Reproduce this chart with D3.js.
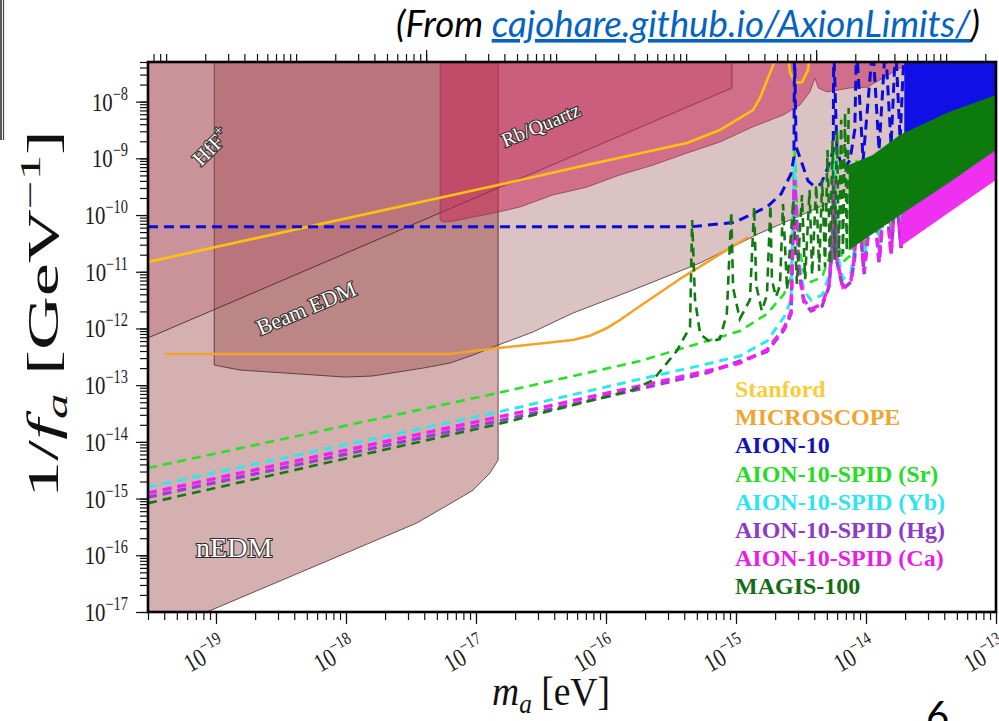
<!DOCTYPE html>
<html>
<head>
<meta charset="utf-8">
<script src="https://cdn.jsdelivr.net/npm/d3@7"></script>
<style>
  body { margin: 0; background: #fff; }
  svg { display: block; }
</style>
</head>
<body>
<svg id="canvas" width="999" height="721"></svg>
<script>
// ---- axes ----
const massRange = [3e-20, 1e-13];
const couplingRange = [1e-17, 5e-8];
const xTicks = [1e-19, 1e-18, 1e-17, 1e-16, 1e-15, 1e-14, 1e-13];
const xTickExp = ['−19', '−18', '−17', '−16', '−15', '−14', '−13'];
const yTicks = [1e-17, 1e-16, 1e-15, 1e-14, 1e-13, 1e-12, 1e-11, 1e-10, 1e-9, 1e-8];
const yTickExp = ['−17', '−16', '−15', '−14', '−13', '−12', '−11', '−10', '−9', '−8'];
const hzPerEV = 2.418e14;
const freqMajor = [1e-3, 1];

// ---- excluded regions [mass eV, 1/fa GeV^-1] ----
const nEDM = [[3e-20, 1e-7], [3e-20, 3.5e-18], [8.5e-20, 1e-17], [3.5e-18, 3.7e-16], [7.5e-18, 1.02e-15],
  [9.5e-18, 1.41e-15], [1.28e-17, 2.82e-15], [1.48e-17, 4.8e-15], [1.48e-17, 1e-7]];
const hfF = [[9.7e-20, 1e-7], [9.7e-20, 2.26e-13], [1.53e-19, 1.85e-13], [9.8e-19, 1.39e-13], [1.6e-18, 1.45e-13],
  [3.9e-18, 2.0e-13], [6.3e-18, 2.45e-13], [9.5e-18, 3.4e-13], [1.48e-17, 5.1e-13], [2.74e-17, 8.65e-13],
  [5.57e-17, 1.87e-12], [1.61e-16, 4.76e-12], [5.3e-16, 1.43e-11], [1.53e-15, 4.8e-11], [1e-13, 3.2e-9], [1e-13, 1e-7]];
const beamEDM = [[3e-20, 1e-7], [3e-20, 6.8e-13], [9.3e-16, 1.74e-8], [9.3e-16, 1e-7]];
const rbQuartz = [[5.3e-18, 1e-7], [5.3e-18, 8.2e-11], [5.6e-18, 7.5e-11], [6.65e-18, 7.8e-11], [1.48e-17, 1.13e-10],
  [2.18e-17, 1.39e-10], [3.9e-17, 2.26e-10], [7.1e-17, 3.1e-10], [1.28e-16, 5.1e-10], [2.3e-16, 7.6e-10],
  [4.2e-16, 1.24e-9], [7.5e-16, 1.94e-9], [1.35e-15, 3.6e-9], [2.3e-15, 5.8e-9], [3.1e-15, 8.7e-9],
  [3.7e-15, 1.48e-8], [4.05e-15, 2.6e-8], [4.3e-15, 1.74e-8], [5.0e-15, 1.48e-8], [7.5e-15, 1.74e-8],
  [1.02e-14, 1.8e-8], [1.35e-14, 2.6e-8], [1.83e-14, 3.9e-8], [2.47e-14, 4.4e-8], [3.7e-14, 5.2e-8], [1e-13, 1e-7]];

// ---- limit / projection curves ----
const stanford = [[3e-20, 1.49e-11], [1.48e-17, 3.39e-10], [7.1e-17, 7.6e-10], [4.2e-16, 1.86e-9], [7.5e-16, 3.16e-9],
  [1.35e-15, 7.1e-9], [1.53e-15, 1.16e-8], [1.89e-15, 3.9e-8], [2.0e-15, 5.4e-8], [2.2e-15, 2e-7], [2.38e-15, 2e-7],
  [2.6e-15, 3.3e-8], [2.84e-15, 2.13e-8], [3.22e-15, 2.22e-8], [3.58e-15, 3.6e-8], [3.9e-15, 2e-7]];
const microscope = [[4.06e-20, 3.54e-13], [6.3e-18, 3.54e-13], [1.48e-17, 4.52e-13], [5.57e-17, 6.25e-13],
  [7.5e-17, 7.4e-13], [1.02e-16, 1.02e-12], [1.28e-16, 1.41e-12], [1.83e-16, 2.49e-12], [3.9e-16, 8.07e-12], [1.24e-15, 4.1e-11]];
const aion10 = [[3e-20, 6.2e-11], [4.43e-16, 6.2e-11], [9.7e-16, 7.4e-11], [1.73e-15, 1.39e-10], [2.22e-15, 2.35e-10],
  [2.65e-15, 5.3e-10], [2.79e-15, 1.05e-9], [2.82e-15, 1e-7], [2.9e-15, 1.6e-9], [3.16e-15, 9.2e-10], [3.58e-15, 4.0e-10],
  [3.98e-15, 3.25e-10], [4.5e-15, 3.5e-10], [5.1e-15, 7.0e-10], [5.6e-15, 1.4e-9], [5.64e-15, 1e-7],
  [5.98e-15, 1.4e-9], [6.65e-15, 6.2e-10], [7.53e-15, 9.3e-10], [8.2e-15, 3.2e-9], [8.46e-15, 1e-7],
  [9.5e-15, 9.3e-10], [1.128e-14, 1e-7], [1.26e-14, 1.4e-9], [1.41e-14, 1e-7], [1.56e-14, 1.72e-9],
  [1.69e-14, 1e-7], [1.83e-14, 2.1e-9], [1.97e-14, 1e-7]];
const aion10DenseLow = [[1.97e-14, 2.1e-9], [4.4e-14, 5.1e-9], [1e-13, 1.07e-8]];
const aion10DenseHigh = [[1.97e-14, 1e-7], [4.4e-14, 1e-7], [1e-13, 1e-7]];
const spidSr = [[3e-20, 3.46e-15], [1.48e-17, 7.3e-14], [1.83e-16, 2.67e-13], [5.98e-16, 6.0e-13], [1.07e-15, 9.0e-13],
  [1.73e-15, 1.8e-12], [2.34e-15, 4.05e-12], [2.65e-15, 8.1e-12], [2.82e-15, 1.4e-9], [3.05e-15, 2.96e-11],
  [3.33e-15, 9.5e-12], [3.78e-15, 6.6e-12], [4.6e-15, 8.1e-12], [5.19e-15, 1.75e-11], [5.48e-15, 6.7e-11],
  [5.64e-15, 1.4e-9], [5.98e-15, 4.4e-11], [6.65e-15, 1.49e-11], [7.67e-15, 1.97e-11], [8.2e-15, 5.4e-11],
  [8.46e-15, 9.3e-10], [9.66e-15, 2.52e-11], [1.128e-14, 6.2e-10], [1.26e-14, 3.78e-11], [1.41e-14, 6.2e-10],
  [1.56e-14, 5.0e-11], [1.69e-14, 6.2e-10], [1.86e-14, 6.4e-11], [1.97e-14, 6.2e-10]];
const spidYb = [[3e-20, 1.6e-15], [1.48e-17, 3.36e-14], [1.83e-16, 1.28e-13], [5.98e-16, 2.36e-13], [1.07e-15, 3.27e-13],
  [1.73e-15, 6.0e-13], [2.34e-15, 1.59e-12], [2.65e-15, 3.17e-12], [2.82e-15, 9.3e-10], [3.05e-15, 1.55e-11],
  [3.33e-15, 4.57e-12], [3.78e-15, 3.17e-12], [4.6e-15, 3.9e-12], [5.19e-15, 8.4e-12], [5.48e-15, 3.5e-11],
  [5.64e-15, 9.3e-10], [5.98e-15, 2.32e-11], [6.65e-15, 7.4e-12], [7.67e-15, 9.9e-12], [8.2e-15, 2.73e-11],
  [8.46e-15, 6.2e-10], [9.66e-15, 1.32e-11], [1.128e-14, 4.15e-10], [1.26e-14, 2.05e-11], [1.41e-14, 4.15e-10],
  [1.56e-14, 2.84e-11], [1.69e-14, 4.15e-10], [1.86e-14, 3.63e-11], [1.97e-14, 4.15e-10]];
const spidHg = [[3e-20, 1.06e-15], [1.48e-17, 2.33e-14], [1.83e-16, 8.6e-14], [5.98e-16, 1.65e-13], [1.73e-15, 3.9e-13],
  [2.34e-15, 9.4e-13], [2.65e-15, 1.8e-12], [2.82e-15, 4.15e-10], [3.05e-15, 9.9e-12], [3.33e-15, 2.92e-12],
  [3.78e-15, 2.03e-12], [4.6e-15, 2.49e-12], [5.19e-15, 5.4e-12], [5.48e-15, 2.23e-11], [5.64e-15, 4.15e-10],
  [5.98e-15, 1.49e-11], [6.65e-15, 4.96e-12], [7.67e-15, 6.6e-12], [8.2e-15, 1.82e-11], [8.46e-15, 3.4e-10],
  [9.66e-15, 9.1e-12], [1.128e-14, 2.8e-10], [1.26e-14, 1.43e-11], [1.41e-14, 2.8e-10], [1.56e-14, 1.97e-11],
  [1.69e-14, 2.8e-10], [1.86e-14, 2.62e-11], [1.97e-14, 2.8e-10]];
const spidCa = [[3e-20, 1.25e-15], [1.48e-17, 2.74e-14], [1.83e-16, 9.7e-14], [5.98e-16, 1.78e-13], [1.07e-15, 2.45e-13],
  [1.73e-15, 4.2e-13], [2.34e-15, 1.02e-12], [2.65e-15, 1.95e-12], [2.82e-15, 4.15e-10], [3.05e-15, 1.07e-11],
  [3.33e-15, 3.17e-12], [3.78e-15, 2.2e-12], [4.6e-15, 2.7e-12], [5.19e-15, 5.8e-12], [5.48e-15, 2.4e-11],
  [5.64e-15, 4.15e-10], [5.98e-15, 1.61e-11], [6.65e-15, 5.4e-12], [7.67e-15, 7.1e-12], [8.2e-15, 1.97e-11],
  [8.46e-15, 3.4e-10], [9.66e-15, 9.9e-12], [1.128e-14, 2.8e-10], [1.26e-14, 1.55e-11], [1.41e-14, 2.8e-10],
  [1.56e-14, 2.14e-11], [1.69e-14, 2.8e-10], [1.86e-14, 2.84e-11], [1.97e-14, 2.8e-10]];
const spidDenseLow = [[1.86e-14, 2.84e-11], [4.4e-14, 1.13e-10], [1e-13, 4.15e-10]];
const spidDenseHigh = [[1.86e-14, 2e-10], [4.4e-14, 6e-10], [1e-13, 2.1e-9]];
const magis = [[3e-20, 8.3e-16], [1.48e-17, 2.06e-14], [1.61e-16, 8.2e-14], [2.3e-16, 1.23e-13], [3.5e-16, 4.0e-13],
  [4.43e-16, 1.06e-12], [4.6e-16, 8.2e-11], [4.84e-16, 3.2e-12], [5.3e-16, 8.0e-13], [6.3e-16, 5.8e-13],
  [7.5e-16, 6.5e-13], [8.5e-16, 1.8e-12], [9.2e-16, 1.13e-10], [9.5e-16, 5.2e-12], [1.07e-15, 1.47e-12],
  [1.28e-15, 3.2e-12], [1.38e-15, 1.39e-10], [1.43e-15, 5.8e-12], [1.58e-15, 2.04e-12], [1.73e-15, 3.9e-12],
  [1.84e-15, 1.5e-10], [1.89e-15, 7.1e-12], [2.03e-15, 3.6e-12], [2.18e-15, 5.8e-12], [2.3e-15, 1.57e-10],
  [2.47e-15, 4.77e-12], [2.76e-15, 1.84e-10], [2.94e-15, 6.1e-12], [3.22e-15, 2.26e-10], [3.4e-15, 7.4e-12],
  [3.68e-15, 2.77e-10], [3.85e-15, 8.8e-12], [4.14e-15, 3.39e-10], [4.36e-15, 1.03e-11], [4.6e-15, 4.15e-10],
  [4.84e-15, 1.21e-11], [5.06e-15, 1.4e-9], [5.28e-15, 1.37e-11], [5.52e-15, 2.1e-9], [5.73e-15, 1.61e-11],
  [5.98e-15, 3.2e-9], [6.19e-15, 1.82e-11], [6.44e-15, 4.8e-9], [6.65e-15, 2.06e-11], [6.9e-15, 6.3e-9],
  [7.11e-15, 2.32e-11], [7.36e-15, 7.7e-9]];
const magisDenseLow = [[7.36e-15, 2.4e-11], [1.83e-14, 1.0e-10], [4.4e-14, 3.8e-10], [1e-13, 1.4e-9]];
const magisDenseHigh = [[7.36e-15, 7.6e-10], [1.128e-14, 1.15e-9], [1.83e-14, 2.6e-9], [4.4e-14, 6.6e-9], [1e-13, 1.31e-8]];

// ---- legend ----
const legendNames = ['Stanford', 'MICROSCOPE', 'AION-10', 'AION-10-SPID (Sr)', 'AION-10-SPID (Yb)',
  'AION-10-SPID (Hg)', 'AION-10-SPID (Ca)', 'MAGIS-100'];
const legendColors = ['#f9cc3a', '#f0a533', '#1414b4', '#27dc27', '#2ee4ee', '#8c3cc8', '#e61ee6', '#146e14'];

const serif = "'Liberation Serif', 'DejaVu Serif', serif";
const svg = d3.select('#canvas');

const x = d3.scaleLog().domain(massRange).range([148, 996]);
const y = d3.scaleLog().domain(couplingRange).range([612, 62]);
const freq = d3.scaleLog().domain(massRange.map(m => m * hzPerEV)).range([148, 996]);

svg.append('defs').append('clipPath').attr('id', 'plotclip')
  .append('rect').attr('x', 148).attr('y', 62).attr('width', 848).attr('height', 550);

const plot = svg.append('g').attr('clip-path', 'url(#plotclip)');
const line = d3.line().x(d => x(d[0])).y(d => y(d[1]));
const band = (lo, hi) => line(lo.concat(hi.slice().reverse())) + 'Z';

// shaded regions, semi transparent so the overlaps darken
const regions = [
  { pts: nEDM, fill: '#780000', op: 0.31, stroke: '#4a2b2b' },
  { pts: hfF, fill: '#6a0000', op: 0.235, stroke: '#4a2b2b' },
  { pts: beamEDM, fill: 'rgb(180,80,100)', op: 0.3, stroke: '#3a2024' },
  { pts: rbQuartz, fill: 'rgb(200,40,90)', op: 0.55, stroke: '#8c3c58' }
];
regions.forEach(r => {
  plot.append('path')
    .attr('d', line(r.pts) + 'Z')
    .attr('fill', r.fill)
    .attr('fill-opacity', r.op)
    .attr('stroke', r.stroke)
    .attr('stroke-opacity', 0.8)
    .attr('stroke-width', 1);
});

// region names, white with a dark outline
const regionLabels = [
  { t: 'HfF', sup: '+', x: 1.0e-19, y: 1.29e-9, rot: -45, size: 21 },
  { t: 'Rb/Quartz', x: 3.3e-17, y: 3.0e-9, rot: -23, size: 20 },
  { t: 'Beam EDM', x: 5.2e-19, y: 1.73e-12, rot: -23, size: 22 },
  { t: 'nEDM', x: 1.38e-19, y: 9.3e-17, rot: 0, size: 28 }
];
regionLabels.forEach(l => {
  const t = plot.append('text')
    .attr('transform', `translate(${x(l.x)},${y(l.y)}) rotate(${l.rot})`)
    .attr('text-anchor', 'middle')
    .attr('font-family', serif)
    .attr('font-size', l.size)
    .attr('fill', '#fff')
    .attr('stroke', '#2b2b2b')
    .attr('stroke-width', 2.2)
    .attr('paint-order', 'stroke')
    .text(l.t);
  if (l.sup) t.append('tspan').attr('dy', -9).attr('font-size', l.size * 0.7).text(l.sup);
});

// curves
const curves = [
  { pts: stanford, color: '#ffc10e', w: 2.6 },
  { pts: microscope, color: '#f5a327', w: 2.6 },
  { pts: spidSr, color: '#27e027', w: 2.6, dash: '9,6' },
  { pts: spidYb, color: '#2ee8f0', w: 3, dash: '9,6' },
  { pts: spidHg, color: '#9b3fd4', w: 3.4, dash: '9,6' },
  { pts: spidCa, color: '#f51ff5', w: 3.4, dash: '9,6' },
  { band: [spidDenseLow, spidDenseHigh], color: '#f030f0' },
  { band: [aion10DenseLow, aion10DenseHigh], color: '#1010e6' },
  { pts: aion10, color: '#0b0bdc', w: 3, dash: '10,6' },
  { band: [magisDenseLow, magisDenseHigh], color: '#0c7a0c' },
  { pts: magis, color: '#137a13', w: 2.6, dash: '9,6' }
];
curves.forEach(c => {
  if (c.band) {
    plot.append('path').attr('d', band(c.band[0], c.band[1])).attr('fill', c.color);
    return;
  }
  plot.append('path')
    .attr('d', line(c.pts))
    .attr('fill', 'none')
    .attr('stroke', c.color)
    .attr('stroke-width', c.w)
    .attr('stroke-dasharray', c.dash || null);
});

// legend
legendNames.forEach((name, i) => {
  svg.append('text')
    .attr('x', 735)
    .attr('y', 397 + i * 28.2)
    .attr('font-family', serif)
    .attr('font-weight', 'bold')
    .attr('font-size', 24)
    .attr('fill', legendColors[i])
    .text(name);
});

// ---- axes ----
function minorTicks(lo, hi) {
  const out = [];
  for (let e = Math.floor(Math.log10(lo)); e <= Math.ceil(Math.log10(hi)); e++) {
    for (let k = 1; k < 10; k++) {
      const v = k * Math.pow(10, e);
      if (v >= lo * 0.999 && v <= hi * 1.001) out.push(v);
    }
  }
  return out;
}
const tickStyle = g => {
  g.select('.domain').remove();
  g.selectAll('line').attr('stroke', '#111').attr('stroke-width', 1.2);
};

svg.append('g').attr('transform', 'translate(148,0)')
  .call(d3.axisLeft(y).tickValues(minorTicks(...couplingRange)).tickSize(8).tickFormat(''))
  .call(tickStyle);
svg.append('g').attr('transform', 'translate(148,0)')
  .call(d3.axisLeft(y).tickValues(yTicks).tickSize(12).tickFormat(''))
  .call(tickStyle);
svg.append('g').attr('transform', 'translate(0,612)')
  .call(d3.axisBottom(x).tickValues(minorTicks(...massRange)).tickSize(8).tickFormat(''))
  .call(tickStyle);
svg.append('g').attr('transform', 'translate(0,612)')
  .call(d3.axisBottom(x).tickValues(xTicks).tickSize(12).tickFormat(''))
  .call(tickStyle);
const fDomain = freq.domain();
svg.append('g').attr('transform', 'translate(0,62)')
  .call(d3.axisTop(freq).tickValues(minorTicks(fDomain[0], fDomain[1])).tickSize(8).tickFormat(''))
  .call(tickStyle);
svg.append('g').attr('transform', 'translate(0,62)')
  .call(d3.axisTop(freq).tickValues(freqMajor).tickSize(12).tickFormat(''))
  .call(tickStyle);

// tick labels 10^n
function powerLabel(tx, ty, exp, anchor, rot) {
  const t = svg.append('text')
    .attr('transform', `translate(${tx},${ty}) rotate(${rot}) scale(0.8,1)`)
    .attr('text-anchor', anchor)
    .attr('font-family', serif)
    .attr('font-size', 26)
    .attr('fill', '#1a1a1a');
  t.append('tspan').text('10');
  t.append('tspan').attr('dy', -11).attr('font-size', 18).text(exp);
}
yTicks.forEach((v, i) => powerLabel(128, y(v) + 9, yTickExp[i], 'end', 0));
xTicks.forEach((v, i) => powerLabel(x(v) - 7, 662, xTickExp[i], 'middle', -30));

// frame
svg.append('rect').attr('x', 148).attr('y', 62).attr('width', 848).attr('height', 550)
  .attr('fill', 'none').attr('stroke', '#000').attr('stroke-width', 2.6);

// axis titles
const xl = svg.append('text')
  .attr('x', 551).attr('y', 705)
  .attr('text-anchor', 'middle')
  .attr('font-family', serif).attr('font-size', 40).attr('fill', '#111')
  .attr('textLength', 118).attr('lengthAdjust', 'spacingAndGlyphs');
xl.append('tspan').attr('font-style', 'italic').text('m');
xl.append('tspan').attr('font-style', 'italic').attr('font-size', 27).attr('dy', 8).text('a');
xl.append('tspan').attr('dy', -8).text(' [eV]');

const yl = svg.append('text')
  .attr('transform', 'translate(58,314) rotate(-90)')
  .attr('text-anchor', 'middle')
  .attr('font-family', serif).attr('font-size', 44).attr('fill', '#111')
  .attr('textLength', 368).attr('lengthAdjust', 'spacingAndGlyphs');
yl.append('tspan').text('1/');
yl.append('tspan').attr('font-style', 'italic').text('f');
yl.append('tspan').attr('font-style', 'italic').attr('font-size', 30).attr('dy', 9).text('a');
yl.append('tspan').attr('dy', -9).text(' [GeV');
yl.append('tspan').attr('font-size', 30).attr('dy', -18).text('−1');
yl.append('tspan').attr('dy', 18).text(']');

// slide decorations
const cap = svg.append('text')
  .attr('x', 396).attr('y', 37)
  .attr('font-family', 'Lato, "Open Sans", sans-serif')
  .attr('font-style', 'italic').attr('font-size', 36).attr('fill', '#000')
  .attr('textLength', 584).attr('lengthAdjust', 'spacingAndGlyphs');
cap.append('tspan').text('(From ');
cap.append('tspan').attr('fill', '#0563c1').attr('text-decoration', 'underline').text('cajohare.github.io/AxionLimits/');
cap.append('tspan').text(')');

svg.append('line').attr('x1', 1).attr('x2', 1).attr('y1', 0).attr('y2', 140).attr('stroke', '#222').attr('stroke-width', 1.5);
svg.append('line').attr('x1', 3.5).attr('x2', 3.5).attr('y1', 0).attr('y2', 140).attr('stroke', '#444').attr('stroke-width', 1.2);

svg.append('text').attr('x', 926).attr('y', 730)
  .attr('font-family', 'Lato, sans-serif').attr('font-size', 40).attr('fill', '#000').text('6');
</script>
</body>
</html>
